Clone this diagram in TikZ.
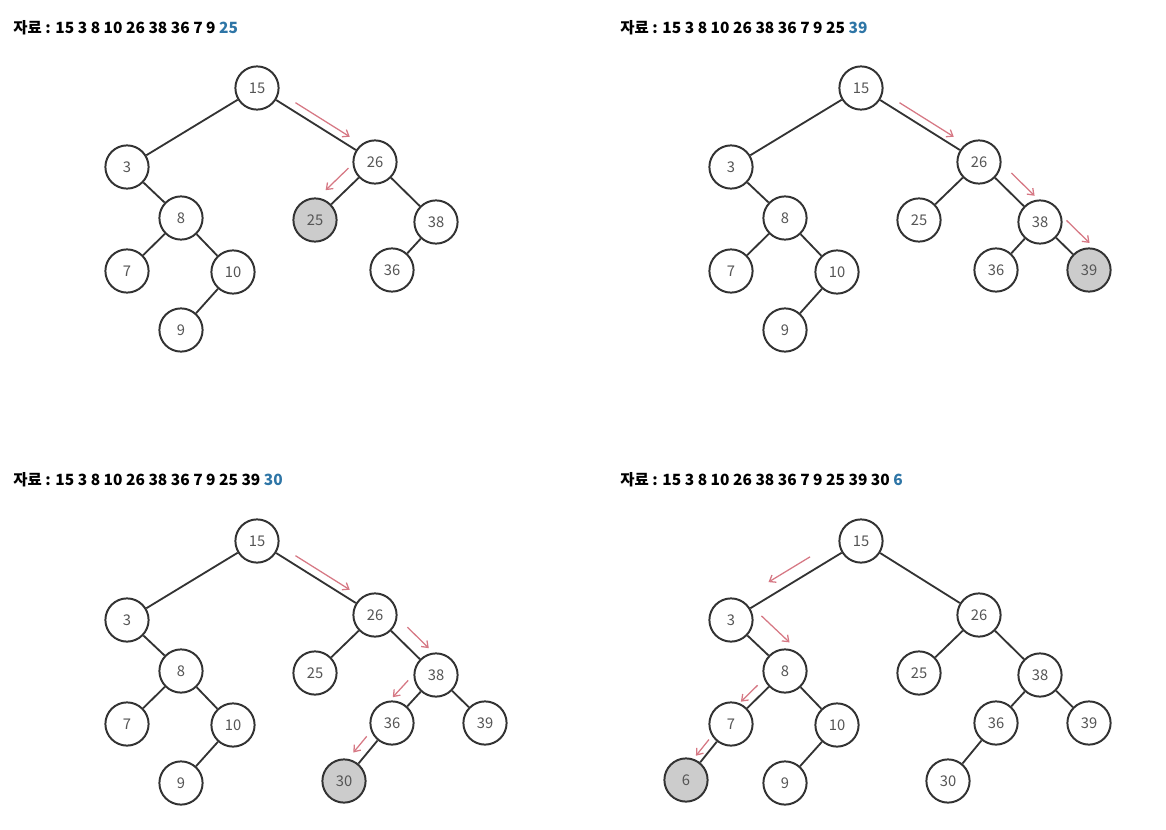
\documentclass[tikz,border=0pt]{standalone}
\usepackage{fontspec}
\setmainfont{Noto Sans CJK KR}
\usetikzlibrary{arrows.meta, calc}
\definecolor{linegray}{RGB}{51, 51, 51}
\definecolor{textgray}{RGB}{85, 85, 85}
\definecolor{newgray}{RGB}{204, 204, 204}
\definecolor{walkred}{RGB}{214, 120, 132}
\definecolor{keyblue}{RGB}{46, 117, 166}

% red arrow beside an edge: from, to, start, end, gap, side
\newcommand{\walk}[6]{%
    \draw[walk] ($(#1)!#3!(#2)!#5!#6:(#2)$) -- ($(#1)!#4!(#2)!#5!#6:(#2)$);}

\begin{document}
\begin{tikzpicture}[
    x=0.025cm, y=-0.025cm,
    key/.style={circle, draw=linegray, line width=1.4pt, minimum size=1.08cm,
                inner sep=0pt, fill=white, text=textgray, font=\fontsize{10.5}{12}\selectfont},
    newkey/.style={key, fill=newgray},
    link/.style={draw=linegray, line width=1.3pt},
    walk/.style={draw=walkred, line width=0.9pt, -{Straight Barb[length=4pt, width=6pt]}},
    title/.style={anchor=west, inner sep=0pt, font=\fontsize{11}{13}\selectfont\bfseries}
]
    \useasboundingbox (0,0) rectangle (1166,830);

    % Panel 1 - insert 25
    \begin{scope}
        \node[title] (a) at (13,28) {자료 : 15 3 8 10 26 38 36 7 9 \textcolor{keyblue}{25}};
        \foreach \v/\x/\y in {15/257/88, 3/127/167, 26/375/162, 8/181/218, 38/436/222,
                              7/127/271, 10/233/272, 36/392/270, 9/181/330}
            \node[key] (a\v) at (\x,\y) {\v};
        \node[newkey] (a25) at (315,220) {25};
        \foreach \p/\c in {15/3, 15/26, 3/8, 8/7, 8/10, 10/9, 26/25, 26/38, 38/36}
            \draw[link] (a\p) -- (a\c);
        \walk{a15}{a26}{0.29}{0.75}{5.7pt}{90}
        \walk{a26}{a25}{0.28}{0.66}{10pt}{-90}
    \end{scope}

    % Panel 2 - insert 39
    \begin{scope}[shift={(604,0)}]
        \node[title] (b) at (16,28) {자료 : 15 3 8 10 26 38 36 7 9 25 \textcolor{keyblue}{39}};
        \foreach \v/\x/\y in {15/257/88, 3/127/167, 26/375/162, 8/181/218, 25/315/220,
                              38/436/222, 7/127/271, 10/233/272, 36/392/270, 9/181/330}
            \node[key] (b\v) at (\x,\y) {\v};
        \node[newkey] (b39) at (485,270) {39};
        \foreach \p/\c in {15/3, 15/26, 3/8, 8/7, 8/10, 10/9, 26/25, 26/38, 38/36, 38/39}
            \draw[link] (b\p) -- (b\c);
        \walk{b15}{b26}{0.29}{0.75}{5.7pt}{90}
        \walk{b26}{b38}{0.36}{0.74}{10.6pt}{90}
        \walk{b38}{b39}{0.26}{0.73}{14pt}{90}
    \end{scope}

    % Panel 3 - insert 30
    \begin{scope}[shift={(0,453)}]
        \node[title] (c) at (13,27) {자료 : 15 3 8 10 26 38 36 7 9 25 39 \textcolor{keyblue}{30}};
        \foreach \v/\x/\y in {15/257/88, 3/127/167, 26/375/162, 8/181/218, 25/315/220,
                              38/436/222, 7/127/271, 10/233/272, 36/392/270, 39/485/270,
                              9/181/330}
            \node[key] (c\v) at (\x,\y) {\v};
        \node[newkey] (c30) at (344,328) {30};
        \foreach \p/\c in {15/3, 15/26, 3/8, 8/7, 8/10, 10/9, 26/25, 26/38, 38/36, 38/39, 36/30}
            \draw[link] (c\p) -- (c\c);
        \walk{c15}{c26}{0.29}{0.75}{5.7pt}{90}
        \walk{c26}{c38}{0.37}{0.72}{10pt}{90}
        \walk{c38}{c36}{0.35}{0.70}{12pt}{-90}
        \walk{c36}{c30}{0.35}{0.63}{7.8pt}{-90}
    \end{scope}

    % Panel 4 - insert 6
    \begin{scope}[shift={(604,453)}]
        \node[title] (d) at (16,27) {자료 : 15 3 8 10 26 38 36 7 9 25 39 30 \textcolor{keyblue}{6}};
        \foreach \v/\x/\y in {15/257/88, 3/127/167, 26/375/162, 8/181/218, 25/315/220,
                              38/436/222, 7/127/271, 10/233/272, 36/392/270, 39/485/270,
                              9/181/330, 30/344/328}
            \node[key] (d\v) at (\x,\y) {\v};
        \node[newkey] (d6) at (82,327) {6};
        \foreach \p/\c in {15/3, 15/26, 3/8, 8/7, 8/10, 10/9, 26/25, 26/38, 38/36, 38/39, 36/30, 7/6}
            \draw[link] (d\p) -- (d\c);
        \walk{d15}{d3}{0.34}{0.66}{9.2pt}{-90}
        \walk{d3}{d8}{0.26}{0.78}{17pt}{90}
        \walk{d8}{d7}{0.39}{0.70}{6.4pt}{-90}
        \walk{d7}{d6}{0.36}{0.65}{5.3pt}{-90}
    \end{scope}
\end{tikzpicture}
\end{document}
